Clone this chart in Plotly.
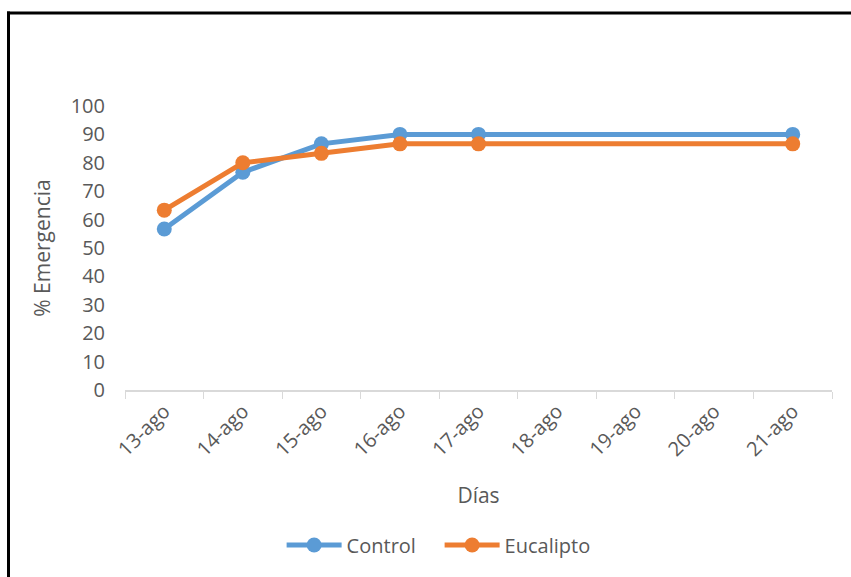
import plotly.graph_objects as go

categories = ["13-ago", "14-ago", "15-ago", "16-ago", "17-ago", "18-ago", "19-ago", "20-ago", "21-ago"]
days = ["13-ago", "14-ago", "15-ago", "16-ago", "17-ago", "21-ago"]
control = [56.67, 76.67, 86.67, 90.0, 90.0, 90.0]
eucalipto = [63.33, 80.0, 83.33, 86.67, 86.67, 86.67]

FONT = "Open Sans"
GRAY = "#595959"

fig = go.Figure()
fig.add_trace(go.Scatter(x=days, y=control, name="Control", mode="lines+markers",
                         line=dict(color="#5B9BD5", width=5),
                         marker=dict(size=15, color="#5B9BD5")))
fig.add_trace(go.Scatter(x=days, y=eucalipto, name="Eucalipto", mode="lines+markers",
                         line=dict(color="#ED7D31", width=5),
                         marker=dict(size=15, color="#ED7D31")))

L, R, T, B = 125, 19, 106, 187
W, H = 851, 577
pw, ph = W - L - R, H - T - B

def px2x(px):
    return (px - L) / pw

def py2y(py):
    return (H - B - py) / ph

fig.update_layout(
    width=W, height=H,
    margin=dict(l=L, r=R, t=T, b=B),
    paper_bgcolor="white", plot_bgcolor="white",
    font=dict(family=FONT, color=GRAY, size=20),
    showlegend=True,
    legend=dict(orientation="h", x=0.445, xanchor="center", y=py2y(545), yanchor="middle",
                font=dict(size=20, color=GRAY), itemwidth=55, entrywidth=88,
                entrywidthmode="pixels", bgcolor="rgba(0,0,0,0)"),
    xaxis=dict(type="category", categoryorder="array", categoryarray=categories,
               range=[-0.5, 8.5], tickson="boundaries", ticks="outside", ticklen=7,
               tickcolor="#d9d9d9", showline=True, linecolor="#d9d9d9", linewidth=1.5,
               showgrid=False, tickangle=-45, tickfont=dict(size=20, color=GRAY),
               title=dict(text="Días", font=dict(size=21, color=GRAY), standoff=27)),
    yaxis=dict(range=[0, 100], dtick=10, showgrid=False, showline=False, zeroline=False,
               ticks="", tickfont=dict(size=20, color=GRAY), ticklabelstandoff=19,
               title=dict(text="% Emergencia", font=dict(size=21, color=GRAY), standoff=14)),
    shapes=[
        dict(type="line", xref="paper", yref="paper", x0=px2x(8.5), x1=px2x(8.5),
             y0=py2y(11.5), y1=py2y(600), line=dict(color="black", width=3)),
        dict(type="line", xref="paper", yref="paper", x0=px2x(7), x1=px2x(860),
             y0=py2y(13), y1=py2y(13), line=dict(color="black", width=3)),
    ],
)

fig.write_html("out.html")
